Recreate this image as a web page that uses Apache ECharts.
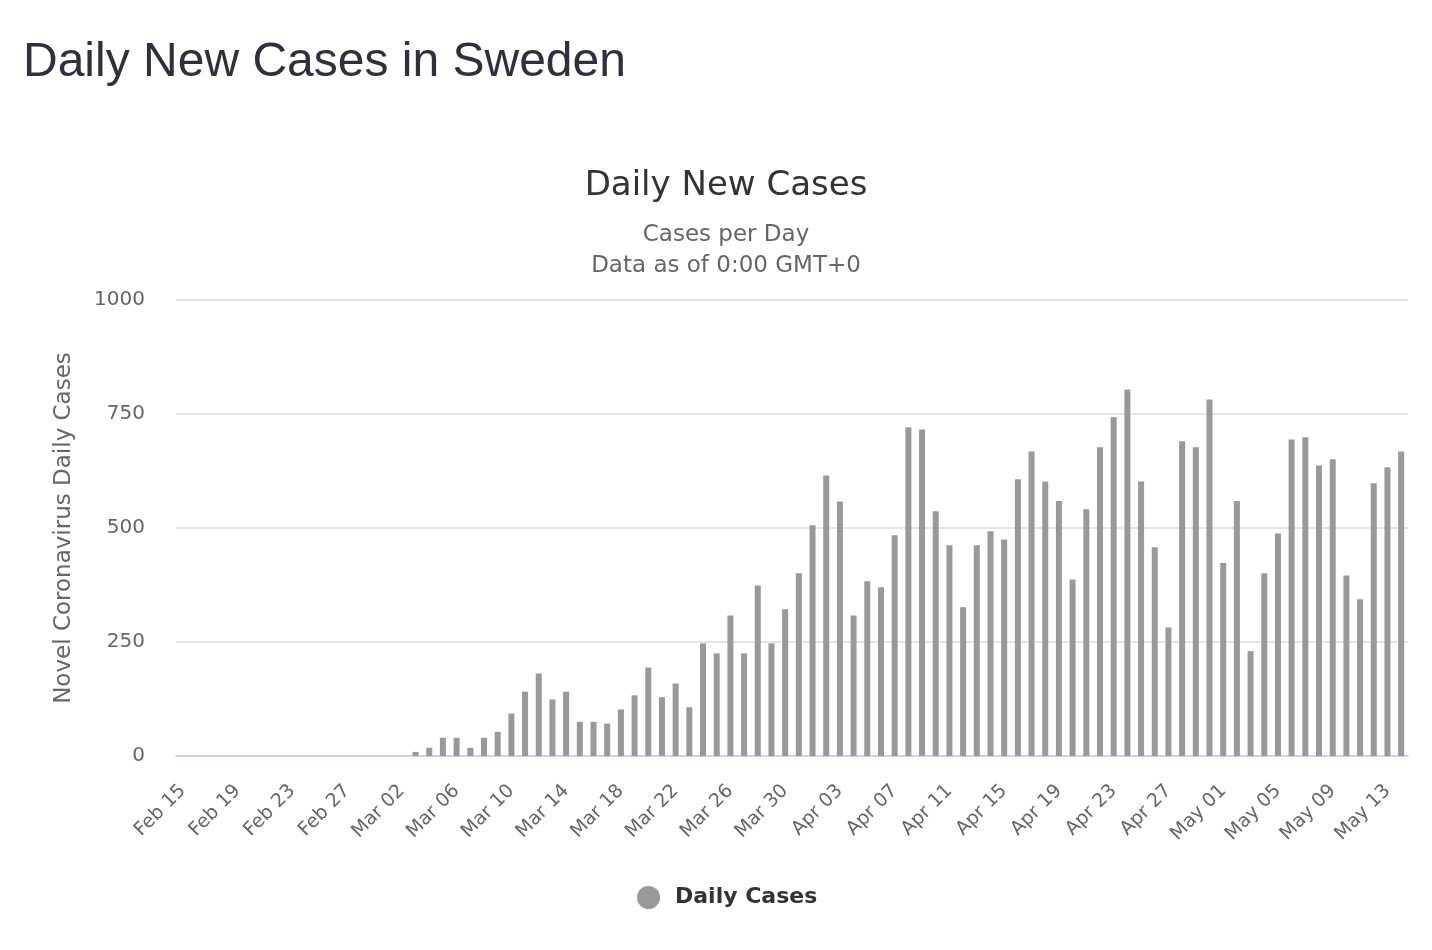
<!DOCTYPE html>
<html>
<head>
<meta charset="utf-8">
<script src="https://cdn.jsdelivr.net/npm/echarts@6/dist/echarts.min.js"></script>
<style>
html,body{margin:0;padding:0;background:#fff;}
#chart{width:1432px;height:950px;}
</style>
</head>
<body>
<div id="chart"></div>
<script>
const categories = [
  "Feb 15","Feb 16","Feb 17","Feb 18","Feb 19","Feb 20","Feb 21","Feb 22","Feb 23","Feb 24",
  "Feb 25","Feb 26","Feb 27","Feb 28","Feb 29","Mar 01","Mar 02","Mar 03","Mar 04","Mar 05",
  "Mar 06","Mar 07","Mar 08","Mar 09","Mar 10","Mar 11","Mar 12","Mar 13","Mar 14","Mar 15",
  "Mar 16","Mar 17","Mar 18","Mar 19","Mar 20","Mar 21","Mar 22","Mar 23","Mar 24","Mar 25",
  "Mar 26","Mar 27","Mar 28","Mar 29","Mar 30","Mar 31","Apr 01","Apr 02","Apr 03","Apr 04",
  "Apr 05","Apr 06","Apr 07","Apr 08","Apr 09","Apr 10","Apr 11","Apr 12","Apr 13","Apr 14",
  "Apr 15","Apr 16","Apr 17","Apr 18","Apr 19","Apr 20","Apr 21","Apr 22","Apr 23","Apr 24",
  "Apr 25","Apr 26","Apr 27","Apr 28","Apr 29","Apr 30","May 01","May 02","May 03","May 04",
  "May 05","May 06","May 07","May 08","May 09","May 10","May 11","May 12","May 13","May 14"
];
const dailyCases = [
  0,0,0,0,0,0,0,0,0,0,
  0,0,0,0,0,0,0,9,18,40,
  40,18,40,53,93,141,181,124,141,75,
  75,71,102,133,194,129,159,107,247,225,
  308,225,374,247,322,401,506,615,558,308,
  383,370,484,721,716,537,462,326,462,493,
  475,607,668,602,559,387,541,677,743,804,
  602,458,282,690,677,782,423,559,230,401,
  488,694,699,637,651,396,344,598,633,668
];
const yTicks = [0, 250, 500, 750, 1000];

const chart = echarts.init(document.getElementById('chart'));
const font = '"DejaVu Sans", sans-serif';
chart.setOption({
  animation: false,
  backgroundColor: '#fff',
  title: [
    { text: 'Daily New Cases in Sweden', left: 18, top: 34,
      textStyle: { fontFamily: '"Liberation Sans", Arial, sans-serif', fontSize: 48, fontWeight: 'normal', color: '#2e3040' } },
    { text: 'Daily New Cases', left: 721, top: 164, textAlign: 'center',
      textStyle: { fontFamily: font, fontSize: 34, fontWeight: 'normal', color: '#333333' } },
    { text: 'Cases per Day\nData as of 0:00 GMT+0', left: 721, top: 215, textAlign: 'center',
      textStyle: { fontFamily: font, fontSize: 23, fontWeight: 'normal', color: '#666666', lineHeight: 31 } }
  ],
  legend: {
    bottom: 36, left: 632,
    icon: 'circle', itemWidth: 23, itemHeight: 23, itemGap: 10,
    textStyle: { fontFamily: font, fontSize: 22, fontWeight: 'bold', color: '#333333', padding: [0, 0, 0, 10] },
    data: ['Daily Cases']
  },
  grid: { left: 176, right: 24, top: 300, bottom: 194, containLabel: false },
  xAxis: {
    type: 'category', data: categories, boundaryGap: true,
    axisLine: { lineStyle: { color: '#ccd6eb', width: 2 } },
    axisTick: { show: false },
    axisLabel: { interval: 3, rotate: 45, margin: 32, fontFamily: font, fontSize: 19, color: '#666666' }
  },
  yAxis: {
    type: 'value', min: yTicks[0], max: yTicks[yTicks.length - 1], interval: 250,
    name: 'Novel Coronavirus Daily Cases', nameLocation: 'middle', nameGap: 100, nameRotate: 90,
    nameTextStyle: { fontFamily: font, fontSize: 23, color: '#666666' },
    axisLine: { show: false }, axisTick: { show: false },
    axisLabel: { margin: 31, fontFamily: font, fontSize: 20, color: '#666666', formatter: v => String(v) },
    splitLine: { lineStyle: { color: '#e6e6e6', width: 2 } }
  },
  series: [{
    name: 'Daily Cases', type: 'bar', data: dailyCases,
    barWidth: 6, itemStyle: { color: '#999999' }
  }]
});
</script>
</body>
</html>
